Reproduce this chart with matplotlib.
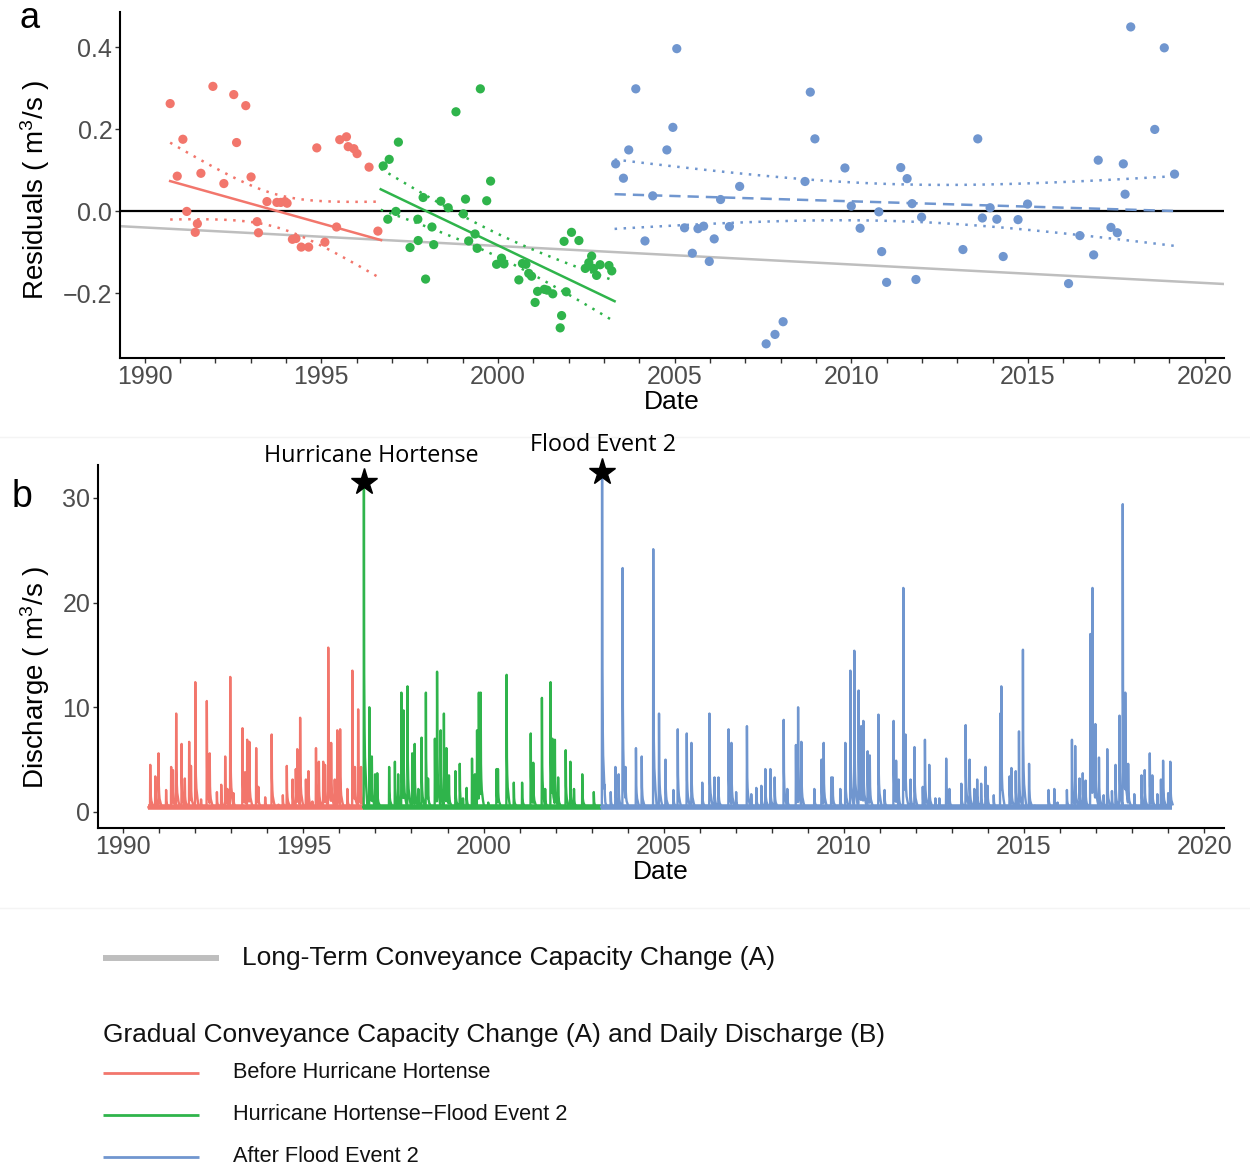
import numpy as np
import matplotlib
matplotlib.use("Agg")
import matplotlib.pyplot as plt
from matplotlib.lines import Line2D
from matplotlib.ticker import FixedLocator, FixedFormatter

plt.rcParams["font.family"] = ["Liberation Sans", "DejaVu Sans"]
plt.rcParams["mathtext.default"] = "regular"

# ---------------------------------------------------------------- colours
C_BEFORE = "#F2766C"
C_MIDDLE = "#2FB44B"
C_AFTER = "#7096CF"
C_LONG = "#BEBEBE"
TICK_GREY = "#4D4D4D"

# ------------------------------------------------------- residual data (a)
before_year = [1990.72, 1990.92, 1991.08, 1991.19, 1991.43, 1991.49, 1991.59, 1991.93,
               1992.24, 1992.52, 1992.60, 1992.86, 1993.01, 1993.18, 1993.22, 1993.46,
               1993.74, 1993.85, 1993.97, 1994.03, 1994.18, 1994.28, 1994.43, 1994.64,
               1994.87, 1995.10, 1995.43, 1995.52, 1995.71, 1995.76, 1995.92, 1996.01,
               1996.35, 1996.60]
before_resid = [0.262, 0.085, 0.175, -0.001, -0.052, -0.031, 0.092, 0.304,
                0.067, 0.284, 0.167, 0.257, 0.083, -0.026, -0.053, 0.023,
                0.021, 0.021, 0.023, 0.019, -0.069, -0.067, -0.088, -0.088,
                0.154, -0.076, -0.039, 0.174, 0.181, 0.157, 0.152, 0.140,
                0.107, -0.049]

middle_year = [1996.75, 1996.88, 1996.92, 1997.11, 1997.18, 1997.51, 1997.73, 1997.74,
               1997.88, 1997.95, 1998.13, 1998.18, 1998.38, 1998.59, 1998.81, 1999.02,
               1999.08, 1999.17, 1999.35, 1999.41, 1999.50, 1999.68, 1999.79, 1999.96,
               2000.10, 2000.17, 2000.59, 2000.69, 2000.79, 2000.87, 2000.95, 2001.05,
               2001.12, 2001.31, 2001.39, 2001.55, 2001.76, 2001.80, 2001.87, 2001.93,
               2002.08, 2002.29, 2002.47, 2002.57, 2002.65, 2002.70, 2002.79, 2002.89,
               2003.14, 2003.22]
middle_resid = [0.110, -0.020, 0.126, -0.001, 0.168, -0.089, -0.020, -0.072,
                0.033, -0.166, -0.039, -0.082, 0.024, 0.008, 0.242, -0.007,
                0.029, -0.073, -0.056, -0.091, 0.298, 0.025, 0.073, -0.130,
                -0.115, -0.129, -0.168, -0.128, -0.130, -0.152, -0.159, -0.223,
                -0.196, -0.191, -0.193, -0.202, -0.285, -0.255, -0.074, -0.197,
                -0.052, -0.072, -0.140, -0.126, -0.110, -0.140, -0.157, -0.131,
                -0.133, -0.146]

after_year = [2003.33, 2003.55, 2003.70, 2003.90, 2004.16, 2004.38, 2004.78, 2004.95,
              2005.06, 2005.28, 2005.50, 2005.66, 2005.82, 2005.98, 2006.12, 2006.30,
              2006.55, 2006.84, 2007.59, 2007.84, 2008.07, 2008.69, 2008.84, 2008.97,
              2009.82, 2010.00, 2010.25, 2010.78, 2010.86, 2011.00, 2011.40, 2011.58,
              2011.72, 2011.83, 2011.99, 2013.16, 2013.58, 2013.71, 2013.93, 2014.12,
              2014.30, 2014.72, 2014.99, 2016.15, 2016.47, 2016.86, 2016.99, 2017.35,
              2017.53, 2017.70, 2017.75, 2017.91, 2018.59, 2018.86, 2019.15]
after_resid = [0.115, 0.080, 0.149, 0.298, -0.073, 0.037, 0.149, 0.204,
               0.396, -0.041, -0.103, -0.043, -0.037, -0.123, -0.068, 0.028,
               -0.038, 0.060, -0.324, -0.301, -0.270, 0.072, 0.290, 0.176,
               0.105, 0.012, -0.042, -0.002, -0.099, -0.174, 0.106, 0.079,
               0.018, -0.167, -0.015, -0.094, 0.176, -0.017, 0.008, -0.020,
               -0.111, -0.021, 0.017, -0.177, -0.060, -0.107, 0.124, -0.040,
               -0.053, 0.115, 0.041, 0.449, 0.199, 0.398, 0.090]

# gradual-change trends per period: [start, end] years and fitted residuals,
# plus the 95% band half-width at its narrowest point and at the ends
before_trend_year, before_trend_fit = [1990.72, 1996.69], [0.073, -0.071]
middle_trend_year, middle_trend_fit = [1996.68, 2003.30], [0.053, -0.220]
after_trend_year, after_trend_fit = [2003.30, 2019.15], [0.041, 0.000]
band_center_year = [1993.70, 2000.00, 2011.20]
band_halfwidth_center = [0.040, 0.028, 0.045]
band_halfwidth_end = [0.094, 0.050, 0.085]

# long-term conveyance trend (start / end of the record)
long_term_year = [1989.30, 2020.55]
long_term_resid = [-0.037, -0.178]

# ------------------------------------------------ daily discharge peaks (b)
before_start, before_end = 1990.70, 1996.66
before_peak_year = [1990.75, 1990.89, 1990.98, 1991.19, 1991.33, 1991.38, 1991.47, 1991.62,
                    1991.71, 1991.83, 1991.88, 1992.00, 1992.16, 1992.32, 1992.40, 1992.60,
                    1992.72, 1992.83, 1992.89, 1992.97, 1993.06, 1993.31, 1993.38, 1993.44,
                    1993.50, 1993.69, 1993.75, 1993.94, 1994.12, 1994.31, 1994.43, 1994.54,
                    1994.70, 1994.79, 1994.83, 1994.91, 1995.07, 1995.14, 1995.25, 1995.35,
                    1995.43, 1995.55, 1995.60, 1995.69, 1995.77, 1995.87, 1995.94, 1996.02,
                    1996.22, 1996.36, 1996.43, 1996.52, 1996.60]
before_peak_q = [4.5, 3.4, 5.6, 2.1, 4.3, 4.0, 9.4, 6.5,
                 3.2, 6.7, 4.4, 12.4, 1.2, 10.6, 5.6, 1.9,
                 2.6, 5.3, 2.2, 12.9, 1.8, 8.0, 3.8, 6.9,
                 6.7, 6.1, 2.4, 1.4, 7.4, 0.7, 1.6, 4.4,
                 3.1, 4.1, 6.0, 9.0, 3.1, 3.9, 1.0, 6.1,
                 4.8, 4.8, 4.5, 15.7, 6.6, 3.1, 7.8, 7.9,
                 2.2, 13.5, 4.3, 9.8, 4.3]

middle_start, middle_end = 1996.66, 2003.27
middle_peak_year = [1996.68, 1996.83, 1996.90, 1996.99, 1997.05, 1997.38, 1997.54, 1997.63,
                    1997.72, 1997.78, 1997.89, 1998.02, 1998.09, 1998.19, 1998.28, 1998.40,
                    1998.46, 1998.65, 1998.71, 1998.81, 1998.90, 1998.97, 1999.04, 1999.22,
                    1999.34, 1999.43, 1999.53, 1999.68, 1999.76, 1999.82, 1999.87, 1999.92,
                    2000.13, 2000.36, 2000.40, 2000.64, 2000.84, 2001.07, 2001.31, 2001.38,
                    2001.62, 2001.71, 2001.86, 2001.91, 2001.98, 2002.07, 2002.28, 2002.41,
                    2002.51, 2002.74, 2003.06]
middle_peak_q = [31.5, 10.0, 5.3, 3.6, 3.7, 4.3, 4.8, 3.6,
                 11.4, 9.7, 12.0, 5.6, 6.5, 2.2, 7.1, 11.4,
                 3.2, 7.0, 13.4, 7.8, 9.4, 6.1, 3.5, 3.9,
                 4.6, 1.3, 2.3, 5.1, 3.6, 7.8, 11.4, 11.4,
                 0.9, 4.1, 4.1, 13.1, 2.8, 2.8, 7.5, 4.7,
                 10.9, 2.2, 12.4, 7.0, 6.9, 3.3, 5.9, 4.8,
                 2.2, 3.6, 1.9]

after_start, after_end = 2003.27, 2019.12
after_peak_year = [2003.29, 2003.36, 2003.53, 2003.66, 2003.75, 2003.86, 2003.94, 2004.23,
                   2004.39, 2004.71, 2004.87, 2005.05, 2005.27, 2005.39, 2005.64, 2005.77,
                   2006.07, 2006.27, 2006.41, 2006.52, 2006.80, 2006.88, 2007.01, 2007.31,
                   2007.43, 2007.57, 2007.71, 2007.82, 2007.96, 2008.08, 2008.33, 2008.43,
                   2008.67, 2008.73, 2008.82, 2009.18, 2009.38, 2009.44, 2009.65, 2009.69,
                   2009.90, 2010.04, 2010.18, 2010.29, 2010.41, 2010.48, 2010.54, 2010.66,
                   2010.72, 2010.96, 2011.13, 2011.38, 2011.45, 2011.52, 2011.65, 2011.71,
                   2011.85, 2011.96, 2012.19, 2012.25, 2012.37, 2012.54, 2012.65, 2012.84,
                   2012.93, 2013.26, 2013.38, 2013.49, 2013.62, 2013.70, 2013.81, 2013.93,
                   2013.99, 2014.16, 2014.34, 2014.37, 2014.60, 2014.65, 2014.77, 2014.86,
                   2014.97, 2015.14, 2015.30, 2015.68, 2015.84, 2015.93, 2016.19, 2016.33,
                   2016.42, 2016.54, 2016.63, 2016.71, 2016.84, 2016.90, 2016.98, 2017.08,
                   2017.21, 2017.31, 2017.44, 2017.54, 2017.65, 2017.74, 2017.81, 2017.89,
                   2018.06, 2018.26, 2018.35, 2018.49, 2018.56, 2018.70, 2018.80, 2018.86,
                   2019.00, 2019.06]
after_peak_q = [32.5, 2.6, 1.9, 4.3, 3.6, 23.3, 4.3, 6.1,
                5.3, 25.1, 9.4, 5.0, 2.1, 7.9, 7.5, 6.6,
                2.8, 9.4, 3.3, 3.3, 7.9, 6.6, 1.9, 8.2,
                1.7, 2.3, 2.5, 4.1, 4.1, 3.3, 8.8, 2.2,
                6.4, 10.0, 6.7, 2.2, 5.0, 6.6, 3.3, 3.3,
                2.2, 6.6, 13.5, 15.4, 11.6, 8.2, 8.7, 5.8,
                5.4, 9.3, 2.1, 8.7, 4.9, 3.1, 21.4, 7.4,
                3.1, 6.2, 2.4, 6.9, 4.5, 1.3, 1.3, 5.1,
                2.2, 2.7, 8.3, 5.0, 2.2, 3.1, 2.7, 4.3,
                2.5, 1.6, 9.4, 12.0, 3.4, 4.2, 3.9, 7.7,
                15.5, 4.6, 0.6, 2.1, 2.2, 0.9, 2.1, 6.9,
                6.3, 3.2, 3.7, 3.0, 17.0, 21.4, 8.4, 5.2,
                1.6, 6.0, 2.0, 4.5, 9.2, 29.4, 11.4, 4.6,
                1.7, 3.5, 4.0, 5.6, 3.5, 1.7, 3.1, 4.9,
                1.8, 4.8]

base_flow = 0.45
event_years = [1996.68, 2003.29]
event_q = [31.5, 32.5]
event_names = ["Hurricane Hortense", "Flood Event 2"]

# storm hydrograph template: offsets (days) and share of the peak above base flow
hydro_offset_days = [-2, 0, 2, 5, 10, 20, 35]
hydro_share = [0.0, 1.0, 0.45, 0.28, 0.16, 0.08, 0.0]


def trend_band(years, fit, center, hw_center, hw_end, npts=120):
    """Straight trend line with a hyperbolic confidence band around it."""
    xs = np.linspace(years[0], years[1], npts)
    line = np.interp(xs, years, fit)
    reach = max(abs(years[0] - center), abs(years[1] - center))
    k = (hw_end ** 2 - hw_center ** 2) / reach ** 2
    hw = np.sqrt(hw_center ** 2 + k * (xs - center) ** 2)
    return xs, line, line - hw, line + hw


def hydrograph(start, end, peak_year, peak_q, base):
    """Daily trace: base flow with a storm hydrograph at each listed peak."""
    days = np.arange(0.0, (end - start) * 365.25 + 1.0)
    t = start + days / 365.25
    q = np.full_like(t, base)
    for ty, qp in zip(peak_year, peak_q):
        d = (ty - start) * 365.25
        shape = np.interp(days, d + np.array(hydro_offset_days, float),
                          base + (qp - base) * np.array(hydro_share), left=base, right=base)
        q = np.maximum(q, shape)
        # make sure the recorded peak day is hit exactly
        i = int(np.argmin(np.abs(days - d)))
        t[i] = ty
        q[i] = max(q[i], qp)
    return t, q


fig = plt.figure(figsize=(12.5, 11.67), dpi=100)
W, H = 1250.0, 1167.0


def style_axis(ax):
    for side in ("top", "right"):
        ax.spines[side].set_visible(False)
    for side in ("left", "bottom"):
        ax.spines[side].set_linewidth(1.5)
        ax.spines[side].set_color("black")
    ax.tick_params(axis="both", length=3.5, width=1.0, color="#333333",
                   labelcolor=TICK_GREY, labelsize=18)
    ax.tick_params(axis="x", pad=1.5)
    ax.tick_params(axis="y", pad=2)
    years = list(range(1990, 2021))
    ax.xaxis.set_major_locator(FixedLocator(years))
    ax.xaxis.set_major_formatter(
        FixedFormatter([str(y) if y % 5 == 0 else "" for y in years]))
    ax.set_xlim(1989.30, 2020.55)
    ax.set_facecolor("white")


# faint panel separators (behind everything)
for ypx in (437, 908):
    fig.add_artist(Line2D([0, 1], [1 - ypx / H] * 2, color="#F4F4F4", lw=1, zorder=-5))

# ----------------------------------------------------------------- panel a
ax1 = fig.add_axes([120 / W, 1 - 358 / H, 1104 / W, 346 / H])
style_axis(ax1)
ax1.set_ylim(-0.3585, 0.4854)
ax1.set_yticks([-0.2, 0.0, 0.2, 0.4])
ax1.set_yticklabels(["\u22120.2", "0.0", "0.2", "0.4"])

ax1.axhline(0, color="black", lw=1.6, zorder=2)
ax1.plot(long_term_year, long_term_resid, color=C_LONG, lw=1.8, zorder=2)

groups = [
    (before_year, before_resid, before_trend_year, before_trend_fit, C_BEFORE, "-"),
    (middle_year, middle_resid, middle_trend_year, middle_trend_fit, C_MIDDLE, "-"),
    (after_year, after_resid, after_trend_year, after_trend_fit, C_AFTER, (0, (4.5, 2.8))),
]
for i, (yrs, res, tyrs, tfit, col, ls) in enumerate(groups):
    ax1.scatter(yrs, res, s=44, color=col, edgecolors="none", zorder=3)
    xs, line, lo, hi = trend_band(tyrs, tfit, band_center_year[i],
                                  band_halfwidth_center[i], band_halfwidth_end[i])
    ax1.plot(xs, line, color=col, lw=1.8, ls=ls, zorder=4)
    for edge in (lo, hi):
        ax1.plot(xs, edge, color=col, lw=1.8, ls=(0, (1, 2.6)), zorder=4)

ax1.set_xlabel("Date", fontsize=19, color="black", labelpad=1)
ax1.set_ylabel("Residuals ( m$^3$/s )", fontsize=20, color="black")
ax1.yaxis.set_label_coords(-0.062, 0.486)

# ----------------------------------------------------------------- panel b
ax2 = fig.add_axes([98 / W, 1 - 828 / H, 1126 / W, 363 / H])
style_axis(ax2)
ax2.set_ylim(-1.53, 33.14)
ax2.set_yticks([0, 10, 20, 30])

for start, end, pyrs, pq, col in [
    (before_start, before_end, before_peak_year, before_peak_q, C_BEFORE),
    (middle_start, middle_end, middle_peak_year, middle_peak_q, C_MIDDLE),
    (after_start, after_end, after_peak_year, after_peak_q, C_AFTER),
]:
    t, q = hydrograph(start, end, pyrs, pq, base_flow)
    ax2.plot([start, end], [base_flow, base_flow], color=col, lw=4.0,
             solid_capstyle="butt", zorder=3)
    ax2.plot(t, q, color=col, lw=1.7, zorder=3)

ax2.plot(event_years, event_q, linestyle="none", marker="*", markersize=20,
         color="black", clip_on=False, zorder=5)
for t, q, name, dx in zip(event_years, event_q, event_names, [5, 1]):
    ax2.annotate(name, xy=(t, q), xytext=(dx, 19), textcoords="offset points",
                 ha="center", va="center", fontsize=16.8, family="Open Sans",
                 annotation_clip=False)

ax2.set_xlabel("Date", fontsize=19, color="black", labelpad=1)
ax2.set_ylabel("Discharge ( m$^3$/s )", fontsize=20, color="black")
ax2.yaxis.set_label_coords(-0.041, 0.416)

# panel tags
fig.text(30 / W, 1 - 18 / H, "a", fontsize=26, ha="center", va="center")
fig.text(22 / W, 1 - 497 / H, "b", fontsize=27, ha="center", va="center")

# ------------------------------------------------------------------ legend
fig.add_artist(Line2D([103 / W, 219 / W], [1 - 958 / H] * 2, color=C_LONG, lw=4.3,
                      solid_capstyle="butt"))
fig.text(242 / W, 1 - 958 / H, "Long-Term Conveyance Capacity Change (A)",
         fontsize=19, va="center", ha="left", color="#111111")
fig.text(103 / W, 1 - 1035 / H,
         "Gradual Conveyance Capacity Change (A) and Daily Discharge (B)",
         fontsize=18.9, va="center", ha="left", color="#111111")
legend_labels = ["Before Hurricane Hortense", "Hurricane Hortense\u2212Flood Event 2",
                 "After Flood Event 2"]
for ypx, col, lab in zip([1073, 1115, 1157], [C_BEFORE, C_MIDDLE, C_AFTER], legend_labels):
    fig.add_artist(Line2D([103 / W, 199 / W], [1 - ypx / H] * 2, color=col, lw=2.0,
                          solid_capstyle="butt"))
    fig.text(233 / W, 1 - ypx / H, lab, fontsize=15.7, va="center", ha="left",
             color="#111111")

fig.savefig("out.png", dpi=100, facecolor="white")
